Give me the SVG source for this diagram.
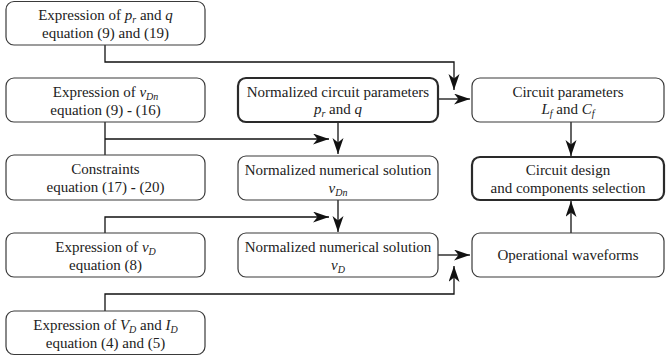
<svg xmlns="http://www.w3.org/2000/svg" width="666" height="362" viewBox="0 0 666 362">
<style>
  .box{fill:#fff;stroke:#3a3a3a;stroke-width:1.2}
  .bold{fill:#fff;stroke:#2a2a2a;stroke-width:2.2}
  .t{font-family:"Liberation Serif","Tinos","Times New Roman","DejaVu Serif","Noto Serif",Times,serif;font-size:15px;fill:#222;text-anchor:middle}
  .i{font-style:italic}
  .c{fill:none;stroke:#111;stroke-width:1.3}
</style>
<defs>
  <marker id="ah" markerUnits="userSpaceOnUse" markerWidth="17" markerHeight="12" refX="16" refY="5.5" orient="auto">
    <path d="M0,0 L16,5.5 L0,11 L4.5,5.5 z" fill="#111"/>
  </marker>
</defs>
<rect width="666" height="362" fill="#fff"/>
<g id="connectors">
  <polyline class="c" points="105,45 105,62 454,62 454,90" marker-end="url(#ah)"/>
  <line class="c" x1="438" y1="99" x2="470" y2="99" marker-end="url(#ah)"/>
  <line class="c" x1="105" y1="122" x2="105" y2="155"/>
  <line class="c" x1="105" y1="139" x2="329" y2="139" marker-end="url(#ah)"/>
  <line class="c" x1="338" y1="122" x2="338" y2="154" marker-end="url(#ah)"/>
  <polyline class="c" points="105,233 105,217 329,217" marker-end="url(#ah)"/>
  <line class="c" x1="338" y1="200" x2="338" y2="232" marker-end="url(#ah)"/>
  <line class="c" x1="438" y1="255" x2="470" y2="255" marker-end="url(#ah)"/>
  <polyline class="c" points="105,311 105,294 454,294 454,266" marker-end="url(#ah)"/>
  <line class="c" x1="571" y1="122" x2="571" y2="156" marker-end="url(#ah)"/>
  <line class="c" x1="571" y1="233" x2="571" y2="201" marker-end="url(#ah)"/>
</g>
<g id="n1">
  <rect class="box" x="6" y="1.5" width="199" height="43.5" rx="8"/>
  <text class="t" x="105.5" y="19.5">Expression of <tspan class="i">p</tspan><tspan class="i" font-size="10" dy="3">r</tspan><tspan dy="-3"> and </tspan><tspan class="i">q</tspan></text>
  <text class="t" x="105.5" y="38">equation (9) and (19)</text>
</g>
<g id="n2">
  <rect class="box" x="6" y="78" width="199" height="44" rx="8"/>
  <text class="t" x="105.5" y="96.5">Expression of <tspan class="i">v</tspan><tspan class="i" font-size="10" dy="3">Dn</tspan></text>
  <text class="t" x="105.5" y="115">equation (9) <tspan font-weight="bold">-</tspan> (16)</text>
</g>
<g id="n3">
  <rect class="box" x="6" y="155" width="199" height="45" rx="8"/>
  <text class="t" x="105.5" y="173.5">Constraints</text>
  <text class="t" x="105.5" y="192">equation (17) <tspan font-weight="bold">-</tspan> (20)</text>
</g>
<g id="n4">
  <rect class="box" x="6" y="233" width="199" height="44" rx="8"/>
  <text class="t" x="105.5" y="251.5">Expression of <tspan class="i">v</tspan><tspan class="i" font-size="10" dy="3">D</tspan></text>
  <text class="t" x="105.5" y="270">equation (8)</text>
</g>
<g id="n5">
  <rect class="box" x="6" y="311" width="199" height="43.5" rx="8"/>
  <text class="t" x="105.5" y="329.5">Expression of <tspan class="i">V</tspan><tspan class="i" font-size="10" dy="3">D</tspan><tspan dy="-3"> and </tspan><tspan class="i">I</tspan><tspan class="i" font-size="10" dy="3">D</tspan></text>
  <text class="t" x="105.5" y="348">equation (4) and (5)</text>
</g>
<g id="n6">
  <rect class="bold" x="238" y="78" width="200" height="44" rx="8"/>
  <text class="t" x="338" y="96.5">Normalized circuit parameters</text>
  <text class="t" x="338" y="114"><tspan class="i">p</tspan><tspan class="i" font-size="10" dy="3">r</tspan><tspan dy="-3"> and </tspan><tspan class="i">q</tspan></text>
</g>
<g id="n7">
  <rect class="box" x="238" y="156" width="200" height="44" rx="8"/>
  <text class="t" x="338" y="174.5">Normalized numerical solution</text>
  <text class="t" x="338" y="193"><tspan class="i">v</tspan><tspan class="i" font-size="10" dy="3">Dn</tspan></text>
</g>
<g id="n8">
  <rect class="box" x="238" y="233" width="200" height="44" rx="8"/>
  <text class="t" x="338" y="251.5">Normalized numerical solution</text>
  <text class="t" x="338" y="270"><tspan class="i">v</tspan><tspan class="i" font-size="10" dy="3">D</tspan></text>
</g>
<g id="n9">
  <rect class="box" x="472" y="78" width="192" height="44" rx="8"/>
  <text class="t" x="568" y="96.5">Circuit parameters</text>
  <text class="t" x="568" y="114"><tspan class="i">L</tspan><tspan class="i" font-size="10" dy="3">f</tspan><tspan dy="-3"> and </tspan><tspan class="i">C</tspan><tspan class="i" font-size="10" dy="3">f</tspan></text>
</g>
<g id="n10">
  <rect class="bold" x="472" y="157" width="192" height="43" rx="8"/>
  <text class="t" x="568" y="174.5">Circuit design</text>
  <text class="t" x="568" y="193">and components selection</text>
</g>
<g id="n11">
  <rect class="box" x="472" y="233" width="192" height="44" rx="8"/>
  <text class="t" x="568" y="260">Operational waveforms</text>
</g>
</svg>
